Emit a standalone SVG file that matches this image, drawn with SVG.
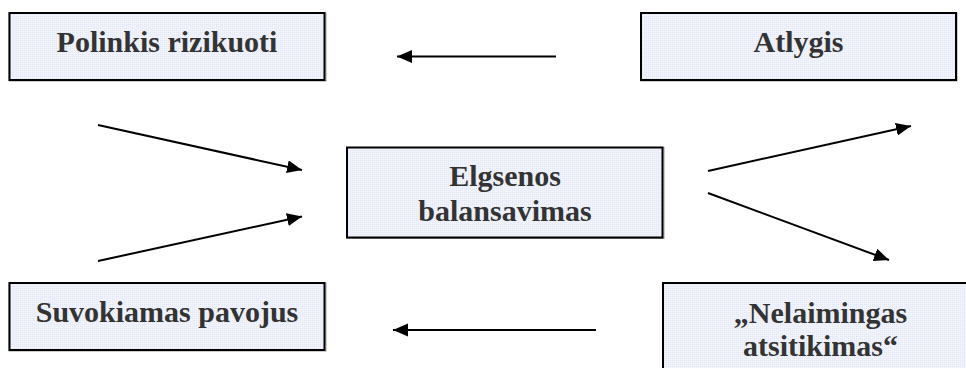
<svg xmlns="http://www.w3.org/2000/svg" width="966" height="368" viewBox="0 0 966 368">
  <defs>
    <!-- fine dotted fill used inside every box -->
    <pattern id="dots" width="2" height="2" patternUnits="userSpaceOnUse">
      <rect width="2" height="2" fill="#f1f3fc"/>
      <rect width="1" height="1" fill="#e2e7f6"/>
    </pattern>
    <marker id="arrow" markerUnits="userSpaceOnUse" markerWidth="16" markerHeight="14" refX="15" refY="6.5" orient="auto">
      <path d="M0,0 L15,6.5 L0,13 z" fill="#000"/>
    </marker>
  </defs>
  <style>
    .box { fill: url(#dots); stroke: #000; stroke-width: 2; }
    .shadow { fill: none; stroke: #9a9a9a; stroke-width: 1; }
    .label { font-weight: bold; font-size: 30px; fill: #333; text-anchor: middle; }
    .conn { stroke: #000; stroke-width: 2; fill: none; marker-end: url(#arrow); }
  </style>
  <rect width="966" height="368" fill="#fff"/>

  <g font-family="Liberation Serif, DejaVu Serif, serif">
  <g id="polinkis">
    <rect class="shadow" x="9" y="13" width="317" height="68"/>
    <rect class="box" x="9.5" y="13" width="315" height="67"/>
    <text class="label" x="167" y="52">Polinkis rizikuoti</text>
  </g>

  <g id="atlygis">
    <rect class="shadow" x="641" y="13" width="316" height="68"/>
    <rect class="box" x="641" y="13" width="315" height="67"/>
    <text class="label" x="798.5" y="52">Atlygis</text>
  </g>

  <g id="elgsenos">
    <rect class="shadow" x="347" y="147.5" width="317" height="91"/>
    <rect class="box" x="347" y="147.5" width="315.5" height="90"/>
    <text class="label" x="505" y="186">Elgsenos</text>
    <text class="label" x="505" y="221">balansavimas</text>
  </g>

  <g id="suvokiamas">
    <rect class="shadow" x="9" y="283" width="317" height="68"/>
    <rect class="box" x="9.5" y="283" width="315" height="67"/>
    <text class="label" x="167" y="322">Suvokiamas pavojus</text>
  </g>

  <g id="nelaimingas">
    <rect class="box" x="663" y="283" width="320" height="100"/>
    <text class="label" x="820.5" y="323">„Nelaimingas</text>
    <text class="label" x="820.5" y="356">atsitikimas“</text>
  </g>
  </g>

  <g id="connectors">
    <line class="conn" x1="556" y1="56.5" x2="397" y2="56.5"/>
    <line class="conn" x1="596" y1="330" x2="393" y2="330"/>
    <line class="conn" x1="98" y1="125" x2="302" y2="170"/>
    <line class="conn" x1="98" y1="261" x2="302" y2="216.5"/>
    <line class="conn" x1="708" y1="171" x2="911" y2="126"/>
    <line class="conn" x1="708" y1="193" x2="889" y2="260"/>
  </g>
</svg>
